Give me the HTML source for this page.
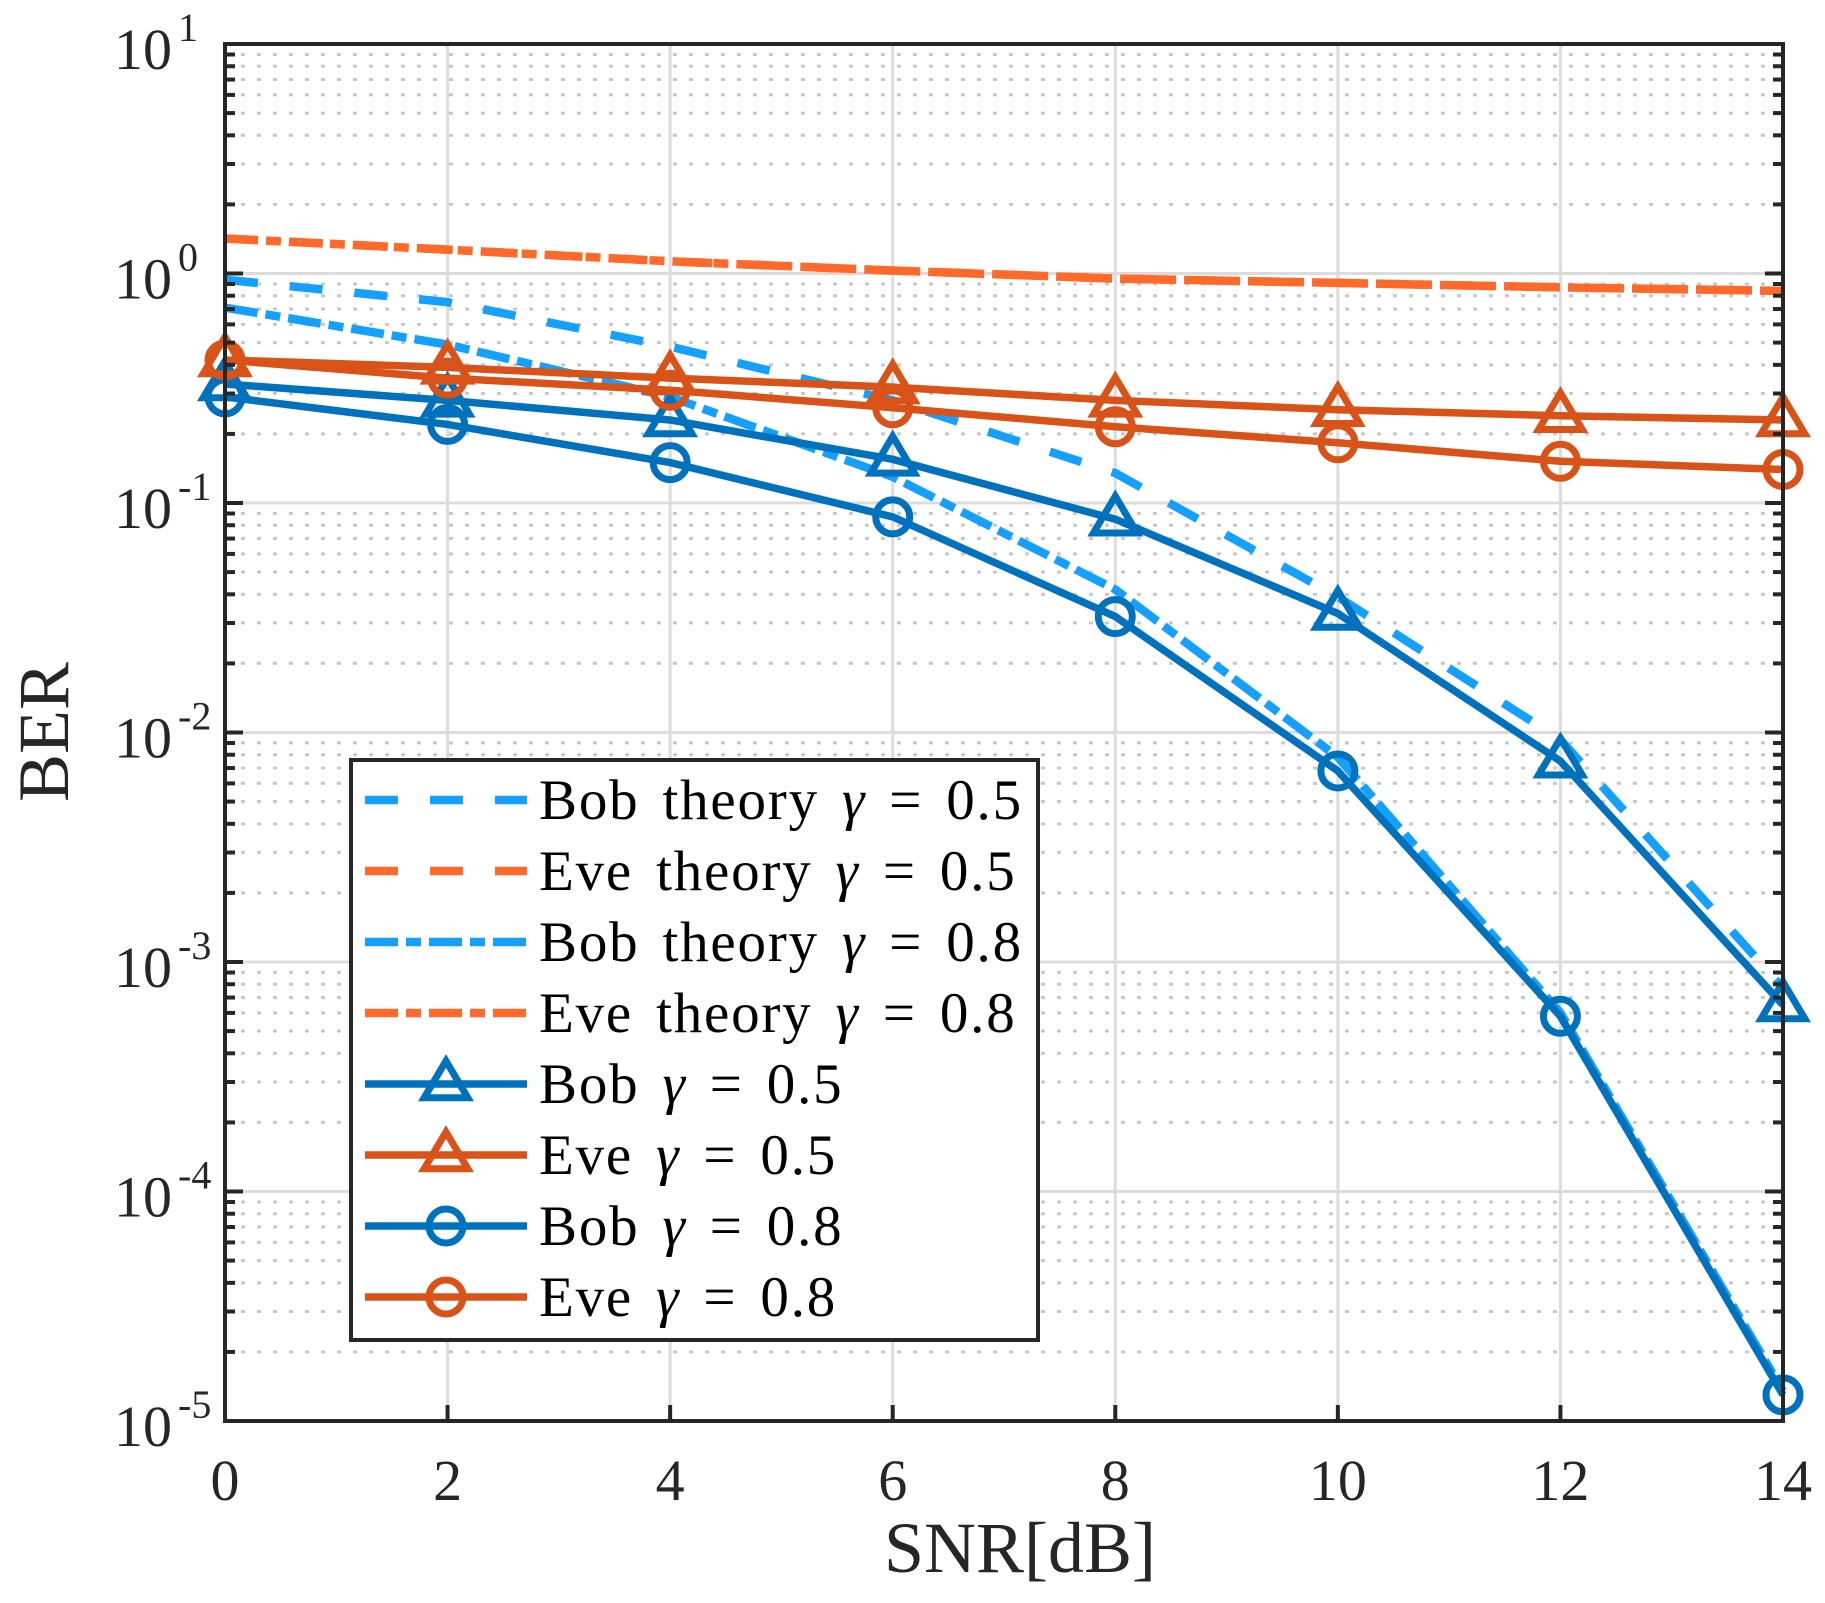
<!DOCTYPE html>
<html><head><meta charset="utf-8"><style>
html,body{margin:0;padding:0;background:#fff;}
svg{display:block;font-family:"Liberation Serif",serif;}
</style></head><body>
<svg id="chart" width="1825" height="1603" viewBox="0 0 1825 1603">
<g id="grid"></g>
<g id="series"></g>
<rect x="225" y="44" width="1558" height="1377" fill="none" stroke="#262626" stroke-width="4"/>
<g id="ticks"></g>
<text x="1020" y="1572" font-size="72" text-anchor="middle" fill="#262626">SNR[dB]</text>
<text transform="translate(68,732) rotate(-90)" font-size="72" text-anchor="middle" fill="#262626">BER</text>
<g id="legend"></g>
</svg>
<script>
const snr = [0,2,4,6,8,10,12,14];
const xTicks = [0,2,4,6,8,10,12,14];
const yExps = [-5,-4,-3,-2,-1,0,1];
const bobTheory05 = [0.94,0.75,0.48,0.28,0.135,0.039,0.0093,0.00077];
const eveTheory05 = [1.42,1.27,1.13,1.03,0.95,0.91,0.87,0.84];
const bobTheory08 = [0.71,0.49,0.29,0.13,0.042,0.0078,0.0006,0.0000135];
const eveTheory08 = [1.42,1.27,1.13,1.03,0.95,0.91,0.87,0.84];
const bob05 = [0.33,0.28,0.23,0.155,0.085,0.033,0.0075,0.00065];
const eve05 = [0.42,0.39,0.35,0.32,0.28,0.255,0.24,0.23];
const bob08 = [0.29,0.22,0.15,0.087,0.032,0.0068,0.00058,0.000013];
const eve08 = [0.42,0.35,0.31,0.26,0.215,0.183,0.152,0.14];

const NS='http://www.w3.org/2000/svg';
const L=225,R=1783,T=44,B=1421;
const X=v=>L+(v-0)/(14-0)*(R-L);
const Y=v=>B-(Math.log10(v)+5)/6*(B-T);
function mk(tag,attrs,parent){const e=document.createElementNS(NS,tag);for(const k in attrs)e.setAttribute(k,attrs[k]);parent.appendChild(e);return e;}
const grid=document.getElementById('grid'),ticks=document.getElementById('ticks'),ser=document.getElementById('series'),leg=document.getElementById('legend');

for(const t of xTicks){
  const g=mk('line',{x1:X(t),x2:X(t),y1:T,y2:B,stroke:'#dcdcdc','stroke-width':3},grid);
  
  
  const tk=mk('line',{x1:X(t),x2:X(t),y1:B,y2:B-16,stroke:'#262626','stroke-width':4},ticks);
  
  
  const lb=mk('text',{x:X(t),y:1500,'font-size':58,'text-anchor':'middle',fill:'#262626'},ticks);
  lb.textContent=t;
  
  
}
for(const e of yExps){
  const y=Y(Math.pow(10,e));
  if(e>-5&&e<1){
    const g=mk('line',{x1:L,x2:R,y1:y,y2:y,stroke:'#dcdcdc','stroke-width':3},grid);
    
    
  }
  const tk=mk('line',{x1:L,x2:L+18,y1:y,y2:y,stroke:'#262626','stroke-width':4},ticks);
  
  
  const tk2=mk('line',{x1:R,x2:R-18,y1:y,y2:y,stroke:'#262626','stroke-width':4},ticks);
  
  
  const lb=mk('text',{x:172,y:y+25,'font-size':58,'text-anchor':'end',fill:'#262626'},ticks);
  lb.textContent='10';
  
  
  const sp=mk('text',{x:178,y:y-3,'font-size':40,'text-anchor':'start',fill:'#262626'},ticks);
  sp.textContent=String(e);
  
  
  if(e<1){for(let m=2;m<=9;m++){
    const yy=Y(m*Math.pow(10,e));
    const g=mk('line',{x1:L,x2:R,y1:yy,y2:yy,stroke:'#c8c8c8','stroke-width':3,'stroke-dasharray':'4 12'},grid);
    
    
    const mt=mk('line',{x1:L,x2:L+10,y1:yy,y2:yy,stroke:'#262626','stroke-width':4},ticks);
    
    
    const mt2=mk('line',{x1:R,x2:R-10,y1:yy,y2:yy,stroke:'#262626','stroke-width':4},ticks);
    
    
  }}
}

const series=[
 {name:'bob-theory-0-5',label:'Bob theory',g:'0.5',d:bobTheory05,c:'#14a0ff',dash:'33 32',m:null},
 {name:'eve-theory-0-5',label:'Eve theory',g:'0.5',d:eveTheory05,c:'#ff6a2a',dash:'33 32',m:null},
 {name:'bob-theory-0-8',label:'Bob theory',g:'0.8',d:bobTheory08,c:'#14a0ff',dash:'33 8 15 8',m:null},
 {name:'eve-theory-0-8',label:'Eve theory',g:'0.8',d:eveTheory08,c:'#ff6a2a',dash:'33 8 15 8',m:null},
 {name:'bob-0-5',label:'Bob',g:'0.5',d:bob05,c:'#0072bd',dash:null,m:'tri'},
 {name:'eve-0-5',label:'Eve',g:'0.5',d:eve05,c:'#d95319',dash:null,m:'tri'},
 {name:'bob-0-8',label:'Bob',g:'0.8',d:bob08,c:'#0072bd',dash:null,m:'circ'},
 {name:'eve-0-8',label:'Eve',g:'0.8',d:eve08,c:'#d95319',dash:null,m:'circ'}
];
function marker(type,x,y,c,parent,name){
  let e;
  if(type==='tri'){const r=23;e=mk('polygon',{points:`${x},${y-r} ${x+r*0.95},${y+r*0.6} ${x-r*0.95},${y+r*0.6}`,fill:'none',stroke:c,'stroke-width':7},parent);}
  else {e=mk('circle',{cx:x,cy:y,r:17,fill:'none',stroke:c,'stroke-width':7},parent);}
  
  
}
for(const s of series){
  const pts=s.d.map((v,i)=>X(snr[i])+','+Y(v)).join(' ');
  const a={points:pts,fill:'none',stroke:s.c,'stroke-width':s.m?7.5:8.5};
  if(s.dash)a['stroke-dasharray']=s.dash;
  const pl=mk('polyline',a,ser);
  
  
  if(s.m)s.d.forEach((v,i)=>marker(s.m,X(snr[i]),Y(v),s.c,ser,s.name+'-marker'));
}
const lb=mk('rect',{x:351,y:760,width:687,height:580,fill:'#fff',stroke:'#262626','stroke-width':4},leg);


series.forEach((s,i)=>{
  const y=800+i*71;
  const g=mk('g',{},leg);
  
  
  const a={x1:365,x2:527,y1:y,y2:y,stroke:s.c,'stroke-width':s.m?7.5:8.5};
  if(s.dash)a['stroke-dasharray']=s.dash;
  const ln=mk('line',a,g);
  
  
  if(s.m)marker(s.m,446,y,s.c,g,'legend-marker');
  const t=mk('text',{x:539,y:y+19,'font-size':57,fill:'#000','letter-spacing':1.8,'word-spacing':7},g);
  
  
  t.appendChild(document.createTextNode(s.label+' '));
  const ts=mk('tspan',{'font-style':'italic'},t);
  ts.textContent='γ';
  t.appendChild(document.createTextNode(' = '+s.g));
});
</script>
</body></html>
